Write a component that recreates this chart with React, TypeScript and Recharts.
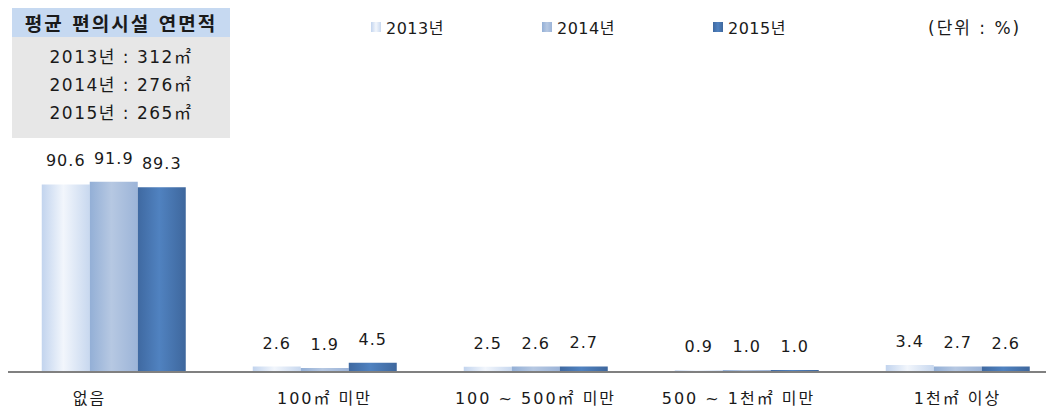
import React from 'react';
import { BarChart, Bar, XAxis, YAxis, Legend, LabelList } from 'recharts';

const categories = ['없음', '100㎡ 미만', '100 ~ 500㎡ 미만', '500 ~ 1천㎡ 미만', '1천㎡ 이상'];
const series2013 = [90.6, 2.6, 2.5, 0.9, 3.4];
const series2014 = [91.9, 1.9, 2.6, 1.0, 2.7];
const series2015 = [89.3, 4.5, 2.7, 1.0, 2.6];
const seriesNames = ['2013년', '2014년', '2015년'];
const areaYears = ['2013년', '2014년', '2015년'];
const areaValues = [312, 276, 265];
const boxTitle = '평균 편의시설 연면적';
const unitLabel = '(단위 : %)';

const data = categories.map((name, i) => ({
  name,
  y2013: series2013[i],
  y2014: series2014[i],
  y2015: series2015[i],
}));

const FONT = "'DejaVu Sans', 'Noto Sans CJK KR', sans-serif";
const TEXT = '#1a1a1a';

const gradients = [
  { id: 'g2013', stops: ['#c2d4ee', '#f2f6fc', '#c8d8ef'], css: 'linear-gradient(90deg,#c2d4ee,#f2f6fc,#c8d8ef)' },
  { id: 'g2014', stops: ['#93afd6', '#b6c8e2', '#9cb4d8'], css: 'linear-gradient(90deg,#93afd6,#b6c8e2,#9cb4d8)' },
  { id: 'g2015', stops: ['#3f69a1', '#5082c0', '#3e679d'], css: 'linear-gradient(90deg,#3f69a1,#5082c0,#3e679d)' },
];

const tickShift = [-24, 0, 0, -8, 0];

const CategoryTick = (props: any) => {
  const { x, y, payload, index } = props;
  return (
    <text
      x={x + (tickShift[index] || 0)}
      y={y + 32}
      textAnchor="middle"
      fontSize={16}
      letterSpacing={2}
      fontFamily={FONT}
      fill={TEXT}
    >
      {payload.value}
    </text>
  );
};

const renderValueLabel = (props: any) => {
  const { x, y, width, value } = props;
  return (
    <text
      x={Number(x) + Number(width) / 2}
      y={Number(y) - 18}
      textAnchor="middle"
      fontSize={16}
      letterSpacing={1}
      fontFamily={FONT}
      fill={TEXT}
    >
      {Number(value).toFixed(1)}
    </text>
  );
};

const renderLegend = () => (
  <div style={{ position: 'relative', width: 420, height: 20, fontFamily: FONT }}>
    {seriesNames.map((n, i) => (
      <div
        key={n}
        style={{
          position: 'absolute',
          left: i * 171,
          top: 0,
          height: 20,
          display: 'flex',
          alignItems: 'center',
          whiteSpace: 'nowrap',
        }}
      >
        <span style={{ display: 'inline-block', width: 10, height: 10, background: gradients[i].css, marginRight: 5 }} />
        <span style={{ fontSize: 16, letterSpacing: 0.5, color: TEXT }}>{n}</span>
      </div>
    ))}
  </div>
);

export default function App() {
  return (
    <div style={{ position: 'relative', width: 1046, height: 406, overflow: 'hidden', fontFamily: FONT }}>
      <BarChart
        width={1062}
        height={406}
        data={data}
        margin={{ top: 157, right: 7, left: 0, bottom: 0 }}
        barCategoryGap="16%"
        barGap={0}
      >
        <defs>
          {gradients.map((g) => (
            <linearGradient key={g.id} id={g.id} x1="0" y1="0" x2="1" y2="0">
              <stop offset="0%" stopColor={g.stops[0]} />
              <stop offset="45%" stopColor={g.stops[1]} />
              <stop offset="100%" stopColor={g.stops[2]} />
            </linearGradient>
          ))}
        </defs>
        <XAxis
          dataKey="name"
          height={42}
          tickSize={0}
          tickMargin={0}
          tickLine={false}
          axisLine={{ stroke: '#808080', strokeWidth: 2 }}
          tick={<CategoryTick />}
          interval={0}
        />
        <YAxis hide domain={[0, 100]} />
        <Legend
          layout="horizontal"
          verticalAlign="middle"
          align="center"
          content={renderLegend}
          wrapperStyle={{ top: 9, left: 363, width: 420, height: 20 }}
        />
        <Bar dataKey="y2013" name={seriesNames[0]} fill="url(#g2013)" isAnimationActive={false}>
          <LabelList dataKey="y2013" content={renderValueLabel} />
        </Bar>
        <Bar dataKey="y2014" name={seriesNames[1]} fill="url(#g2014)" isAnimationActive={false}>
          <LabelList dataKey="y2014" content={renderValueLabel} />
        </Bar>
        <Bar dataKey="y2015" name={seriesNames[2]} fill="url(#g2015)" isAnimationActive={false}>
          <LabelList dataKey="y2015" content={renderValueLabel} />
        </Bar>
      </BarChart>

      <div style={{ position: 'absolute', left: 4, top: 0, width: 218, height: 130 }}>
        <div
          style={{
            height: 29,
            background: '#c6d9f1',
            display: 'flex',
            alignItems: 'center',
            justifyContent: 'center',
            fontSize: 19,
            fontWeight: 'bold',
            letterSpacing: 2,
            color: TEXT,
            whiteSpace: 'nowrap',
          }}
        >
          {boxTitle}
        </div>
        <div style={{ height: 101, background: '#e7e7e7', paddingTop: 6, boxSizing: 'border-box' }}>
          {areaYears.map((yr, i) => (
            <div
              key={yr}
              style={{
                height: 28,
                lineHeight: '28px',
                textAlign: 'center',
                fontSize: 17,
                letterSpacing: 1.5,
                color: TEXT,
                whiteSpace: 'nowrap',
              }}
            >
              {`${yr} : ${areaValues[i]}㎡`}
            </div>
          ))}
        </div>
      </div>

      <div
        style={{
          position: 'absolute',
          left: 920,
          top: 10,
          height: 20,
          lineHeight: '20px',
          fontSize: 17,
          letterSpacing: 2,
          color: TEXT,
          whiteSpace: 'nowrap',
        }}
      >
        {unitLabel}
      </div>
    </div>
  );
}
